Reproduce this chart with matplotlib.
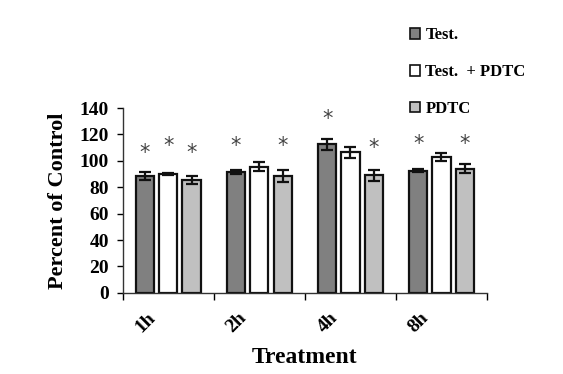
import matplotlib

matplotlib.use("Agg")
import matplotlib.pyplot as plt
import matplotlib.transforms as mtransforms
from matplotlib.patches import Patch
import numpy as np

# data
groups = ["1h", "2h", "4h", "8h"]
series = ["Test.", "Test.  + PDTC", "PDTC"]
test_vals = [88.5, 91.5, 112.5, 92.5]
test_err = [3.0, 1.5, 4.0, 1.0]
testpdtc_vals = [90.0, 95.5, 106.5, 103.0]
testpdtc_err = [1.0, 3.5, 4.0, 3.0]
pdtc_vals = [85.5, 88.5, 89.0, 94.0]
pdtc_err = [3.0, 4.5, 4.0, 3.5]
# heights of the significance asterisks (None = no star)
test_star = [106, 111.5, 131.5, 113]
testpdtc_star = [111.5, None, None, None]
pdtc_star = [106, 111.5, 110, 113]

COLORS = ["#808080", "#ffffff", "#c0c0c0"]
INK = "#111111"

plt.rcParams.update({
    "font.family": ["Liberation Serif", "DejaVu Serif"],
    "font.weight": "bold",
})

fig = plt.figure(figsize=(5.63, 3.74), dpi=100)
ax = fig.add_axes([0.218, 0.217, 0.647, 0.494])

x = np.arange(len(groups))
w = 0.2
step = 0.256
vals = [test_vals, testpdtc_vals, pdtc_vals]
errs = [test_err, testpdtc_err, pdtc_err]
stars = [test_star, testpdtc_star, pdtc_star]
for i in range(3):
    xs = x + (i - 1) * step
    ax.bar(xs, vals[i], w, color=COLORS[i], edgecolor=INK, linewidth=1.6, zorder=2)
    ax.errorbar(xs, vals[i], yerr=errs[i], fmt="none", ecolor=INK, elinewidth=1.6,
                capsize=4.5, capthick=1.6, zorder=3)
    for xi, sy in zip(xs, stars[i]):
        if sy is not None:
            ax.text(xi, sy, "*", ha="center", va="center", fontsize=15,
                    color="#444444", fontweight="normal", family="DejaVu Sans")

ax.set_xlim(-0.5, len(groups) - 0.5)
ax.set_ylim(0, 140)
ax.set_yticks(range(0, 141, 20))
ax.tick_params(axis="y", labelsize=14, direction="out", length=4, width=1, pad=6)
ax.set_xticks(np.arange(len(groups) + 1) - 0.5, minor=True)
ax.tick_params(axis="x", which="major", length=0, pad=12)
ax.tick_params(axis="x", which="minor", length=5, width=1, direction="out")
ax.set_xticks(x)
ax.set_xticklabels(groups, rotation=45, fontsize=14, fontweight="bold")
for s in ("top", "right"):
    ax.spines[s].set_visible(False)
for s in ("left", "bottom"):
    ax.spines[s].set_linewidth(1.0)
    ax.spines[s].set_color("#333333")

ax.set_ylabel("Percent of Control", fontsize=16, fontweight="bold", labelpad=8)
ax.set_xlabel("Treatment", fontsize=17, fontweight="bold", labelpad=8)

handles = [Patch(facecolor=c, edgecolor=INK, linewidth=1.2) for c in COLORS]
fig.legend(handles, series, loc="upper left", bbox_to_anchor=(0.701, 0.967),
           frameon=False, prop={"family": "Liberation Serif", "weight": "bold", "size": 12},
           handlelength=0.6, handleheight=0.6, handletextpad=0.35, labelspacing=1.25)

# nudge the rotated group labels left, as in the original
shift = mtransforms.ScaledTranslation(-23 / 100, 0, fig.dpi_scale_trans)
for lab in ax.xaxis.get_majorticklabels():
    lab.set_transform(lab.get_transform() + shift)

fig.savefig("out.png", dpi=100)
